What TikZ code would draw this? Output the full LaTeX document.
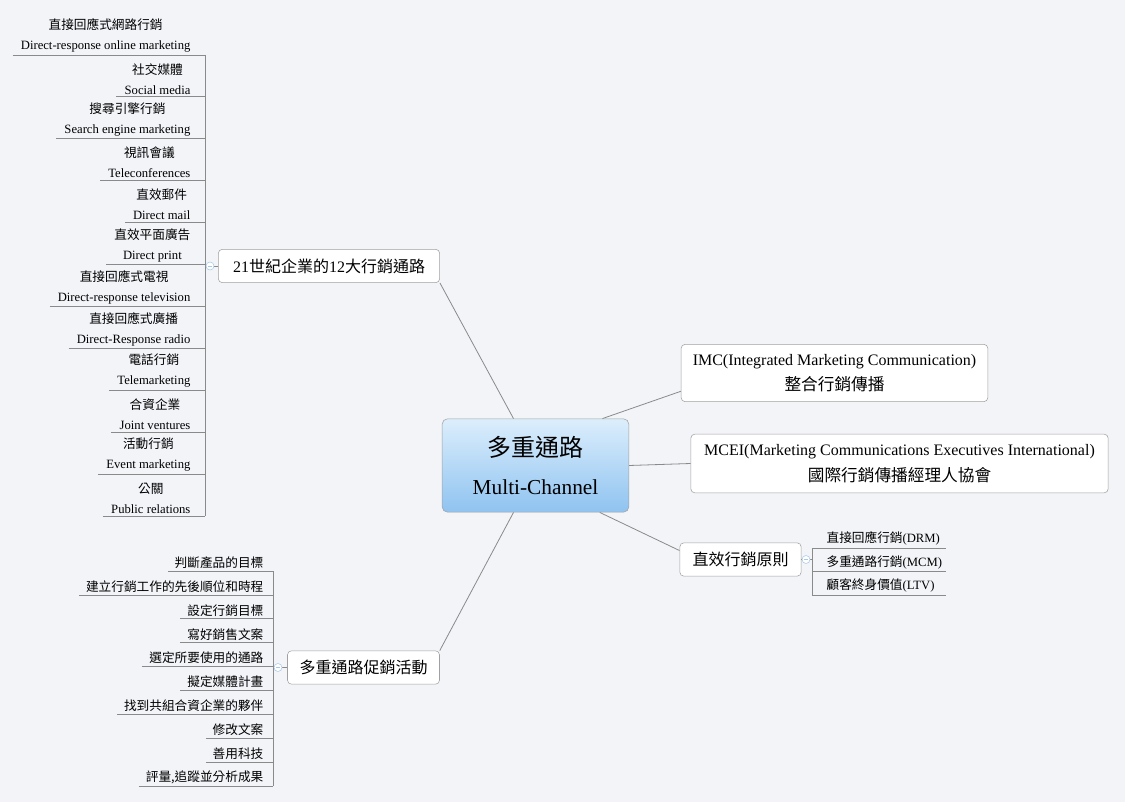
\documentclass[tikz,border=0pt]{standalone}
\usepackage{fontspec}
\setmainfont{Liberation Serif}
\newfontfamily\cjk{Noto Sans CJK TC}
\definecolor{bg}{HTML}{F2F4F8}
\definecolor{ln}{HTML}{8A8A8A}
\definecolor{bx}{HTML}{A0A0A0}
\definecolor{ctop}{HTML}{DCEEFC}
\definecolor{cbot}{HTML}{8FC3F0}
\definecolor{mk}{HTML}{A8C8E8}
\begin{document}
\begin{tikzpicture}[x=0.75pt,y=-0.75pt,
  box/.style={draw=bx,fill=white,rounded corners=3pt,inner xsep=4pt,inner ysep=3pt,font=\fontsize{12}{16}\selectfont,align=center},
  leaf/.style={inner sep=1pt,font=\fontsize{9.5}{15}\selectfont},
  conn/.style={draw=ln,line width=0.6pt},
  marker/.style={circle,draw=mk,fill=white,inner sep=0pt,minimum size=6pt}]
\fill[bg] (0,0) rectangle (1125,802);
\useasboundingbox (0,0) rectangle (1125,802);
% central
\node[draw=bx,rounded corners=4pt,top color=ctop,bottom color=cbot,minimum width=140pt,minimum height=70pt,align=center,font=\fontsize{16}{28}\selectfont] (c) at (535.5,465.5) {{\cjk\fontsize{18}{28}\selectfont 多重通路}\\Multi-Channel};
% branches
\node[box,minimum width=166pt,minimum height=25pt] (b1) at (329,266) {21{\cjk 世紀企業的}12{\cjk 大行銷通路}};
\node[box,minimum width=114pt,minimum height=25pt] (b2) at (363.5,667.5) {\cjk 多重通路促銷活動};
\node[box,minimum width=230pt,minimum height=43pt,font=\fontsize{12}{19}\selectfont] (b3) at (834.5,373) {IMC(Integrated Marketing Communication)\\{\cjk\fontsize{12.5}{19}\selectfont 整合行銷傳播}};
\node[box,minimum width=313pt,minimum height=44pt,font=\fontsize{12}{19}\selectfont] (b4) at (899.5,463.5) {MCEI(Marketing Communications Executives International)\\{\cjk\fontsize{12.5}{19}\selectfont 國際行銷傳播經理人協會}};
\node[box,minimum width=91pt,minimum height=25pt] (b5) at (740.5,559.5) {\cjk 直效行銷原則};
\draw[conn] (c.north)+(-22,0) coordinate (c1) -- (b1.south east) ;
\draw[conn] (c.south)+(-22,0) coordinate (c2) -- (b2.north east);
\draw[conn] ([xshift=-20]c.north east) -- ([yshift=8]b3.south west);
\draw[conn] (c.east) -- (b4.west);
\draw[conn] ([xshift=-22]c.south east) -- ([yshift=-6]b5.north west);
% left top leaves
\coordinate (v1t) at (205,55);
\coordinate (v1b) at (205,516);
\draw[conn] (v1t) -- (v1b);
\foreach \i/\c/\e in {1/直接回應式網路行銷/Direct-response online marketing,2/社交媒體/Social media,3/搜尋引擎行銷/Search engine marketing,4/視訊會議/Teleconferences,5/直效郵件/Direct mail,6/直效平面廣告/Direct print,7/直接回應式電視/Direct-response television,8/直接回應式廣播/Direct-Response radio,9/電話行銷/Telemarketing,10/合資企業/Joint ventures,11/活動行銷/Event marketing,12/公關/Public relations}{
  \pgfmathsetmacro\yy{55+41.9*(\i-1)}
  \node[leaf,anchor=south,align=center] (L\i) at (191,\yy) {\phantom{x}};
  \node[leaf,anchor=south east,align=center] (T\i) at (192,\yy-1) {{\cjk\c}\\\e};
  \draw[conn] ([xshift=-5]T\i.south west|-0,\yy) -- (205,\yy);
}
\draw[conn] (205,266) -- (b1.west);
\node[marker] (m1) at (210,266) {};
\draw[mk,line width=0.6pt] (208,266) -- (212,266);
% bottom left leaves
\draw[conn] (273,571) -- (273,786);
\foreach \i/\c in {1/判斷產品的目標,2/建立行銷工作的先後順位和時程,3/設定行銷目標,4/寫好銷售文案,5/選定所要使用的通路,6/擬定媒體計畫,7/找到共組合資企業的夥伴,8/修改文案,9/善用科技,10/評量{,}追蹤並分析成果}{
  \pgfmathsetmacro\yy{571+23.9*(\i-1)}
  \node[leaf,anchor=south east] (P\i) at (265,\yy-1) {\cjk\c};
  \draw[conn] ([xshift=-4]P\i.south west|-0,\yy) -- (273,\yy);
}
\draw[conn] (273,667.5) -- (b2.west);
\node[marker] (m2) at (278,667.5) {};
\draw[mk,line width=0.6pt] (276,667.5) -- (280,667.5);
% right leaves
\draw[conn] (812,548) -- (812,595);
\foreach \i/\c/\e in {1/直接回應行銷/DRM,2/多重通路行銷/MCM,3/顧客終身價值/LTV}{
  \pgfmathsetmacro\yy{548+23.5*(\i-1)}
  \node[leaf,anchor=south west] (R\i) at (825,\yy-1) {{\cjk\c}(\e)};
  \draw[conn] (812,\yy) -- (946,\yy);
}
\draw[conn] (b5.east) -- (812,559.5);
\node[marker] (m3) at (806,559.5) {};
\draw[mk,line width=0.6pt] (804,559.5) -- (808,559.5);
\end{tikzpicture}
\end{document}
